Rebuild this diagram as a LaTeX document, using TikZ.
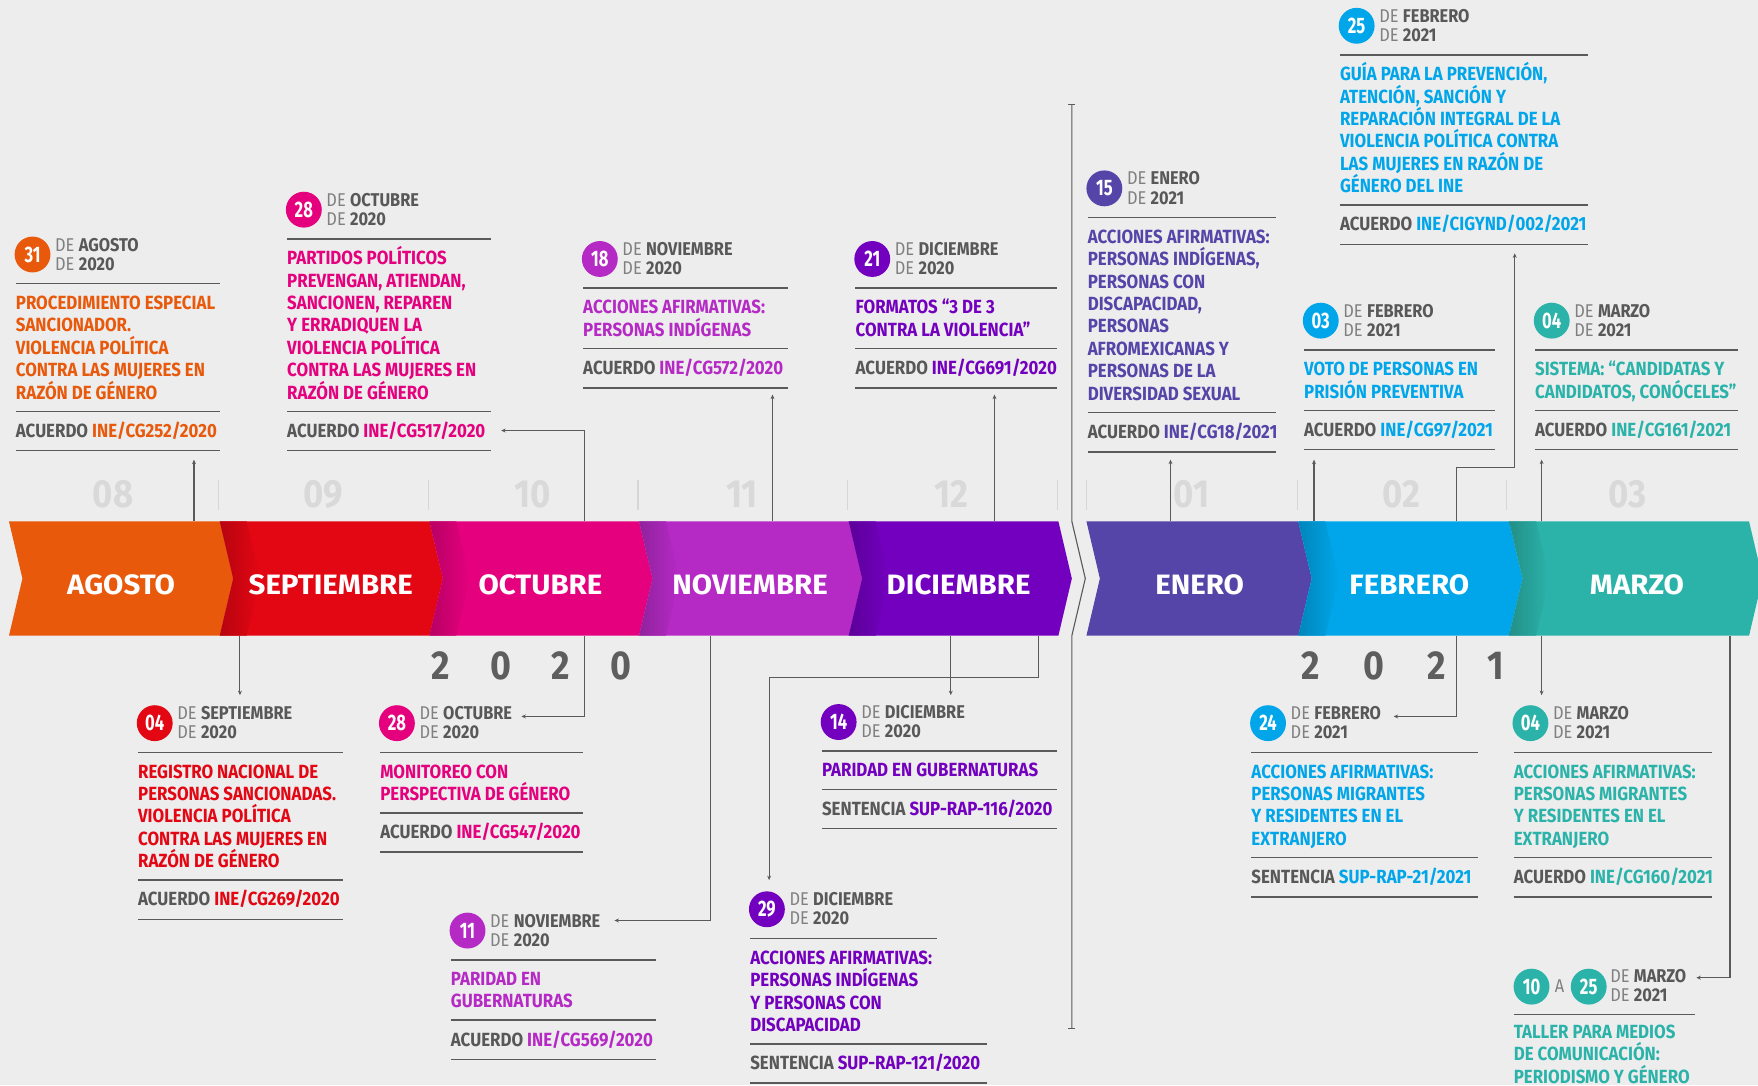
\documentclass[tikz,border=0pt]{standalone}
\usepackage{fontspec}
\setmainfont{Fira Sans}[FakeStretch=0.885]
\newfontfamily\bandfam{Fira Sans}[FakeStretch=1.05]
\newfontfamily\condfam{Fira Sans}[FakeStretch=0.74]
\usetikzlibrary{arrows.meta}
\definecolor{bg}{HTML}{EDEDED}
\definecolor{cago}{HTML}{E8590C}
\definecolor{csep}{HTML}{E30613}
\definecolor{coct}{HTML}{E5007D}
\definecolor{cnov}{HTML}{B52AC5}
\definecolor{cdic}{HTML}{7300BF}
\definecolor{cene}{HTML}{5545A8}
\definecolor{cfeb}{HTML}{00A6E9}
\definecolor{cmar}{HTML}{2BB3AA}
\definecolor{dlight}{HTML}{808080}
\definecolor{ddark}{HTML}{585858}
\definecolor{rulegray}{HTML}{5A5A5A}
\definecolor{conngray}{HTML}{5A5A5A}
\definecolor{numgray}{HTML}{D9D9D9}
\definecolor{tickgray}{HTML}{D6D6D6}
\definecolor{yeargray}{HTML}{5E5E5E}
\newcommand\stk[1]{\vtop{\let\\\cr\lineskiplimit=-60pt\lineskip=0pt\halign{##\hfil\cr#1\crcr}}}
\tikzset{
 daycirc/.style={circle, inner sep=0pt, minimum size=32pt, text=white, font=\condfam\bfseries\fontsize{20}{20}\selectfont},
 datetxt/.style={anchor=base west, inner sep=0pt, font=\fontsize{16.5}{17}\selectfont},
 bodytxt/.style={anchor=base west, inner sep=0pt, font=\bfseries\fontsize{17}{20}\selectfont},
 cardrule/.style={draw=rulegray, line width=1.4pt},
 conn/.style={draw=conngray, line width=1pt, -{Stealth[length=4pt,width=3.5pt]}},
 bandlbl/.style={anchor=base, inner sep=0pt, text=white, font=\bandfam\bfseries\fontsize{25}{25}\selectfont},
 monnum/.style={anchor=base, inner sep=0pt, text=numgray, font=\bfseries\fontsize{35}{35}\selectfont},
 yeardig/.style={anchor=base, inner sep=0pt, text=yeargray, font=\bfseries\fontsize{36}{36}\selectfont},
 tickln/.style={draw=tickgray, line width=1pt},
 bigline/.style={draw=conngray, line width=1pt},
}
\newcommand\cardhead[8]{%
  \node[daycirc, fill=#5] (#1num) at ({#2+15},{#3-26}) {#6};
  \node[datetxt] (#1date) at ({#2+35},{#3-29}) {\stk{\textcolor{dlight}{DE} \textcolor{ddark}{\bfseries #7}\\ \textcolor{dlight}{DE} \textcolor{ddark}{\bfseries #8}}};
  \draw[cardrule] ({#2},{#3}) -- ({#4},{#3});
}
\newcommand\cardbody[9]{%
  \pgfmathsetmacro\rb{#3+14+20*#6}%
  \node[bodytxt, text=#5] (#1body) at ({#2},{#3+23}) {\stk{#7}};
  \draw[cardrule] ({#2},\rb) -- ({#4},\rb);
  \node[bodytxt] (#1ref) at ({#2},{\rb+23}) {\textcolor{ddark}{#8} \textcolor{#5}{#9}};
  \draw[cardrule] ({#2},{\rb+35}) -- ({#4},{\rb+35});
}
\newcommand\bandseg[3]{%
  \fill[#3] (#1,465) -- (#2,465) -- ({#2+12},516) -- (#2,567) -- (#1,567) -- ({#1+12},516) -- cycle;}
\newcommand\bandshade[2]{%
  \shade[left color=#2!80!black, right color=#2] (#1,465) -- ({#1+24},465) -- ({#1+36},516) -- ({#1+24},567) -- (#1,567) -- ({#1+12},516) -- cycle;}
\begin{document}
\begin{tikzpicture}[x=1pt,y=-1pt]
\path[use as bounding box, fill=bg] (0,0) rectangle (1568,968);
\clip (0,0) rectangle (1568,968);

% band
\bandseg{8}{196}{cago}
\bandseg{196}{383}{csep}
\bandseg{383}{570}{coct}
\bandseg{570}{757}{cnov}
\bandseg{757}{944}{cdic}
\bandseg{969}{1158}{cene}
\bandseg{1158}{1346}{cfeb}
\bandseg{1346}{1560}{cmar}
\bandshade{196}{csep}
\bandshade{383}{coct}
\bandshade{570}{cnov}
\bandshade{757}{cdic}
\bandshade{1158}{cfeb}
\bandshade{1346}{cmar}

\node[bandlbl] (lago) at (108,530) {AGOSTO};
\node[bandlbl] (lsep) at (295,530) {SEPTIEMBRE};
\node[bandlbl] (loct) at (482,530) {OCTUBRE};
\node[bandlbl] (lnov) at (669,530) {NOVIEMBRE};
\node[bandlbl] (ldic) at (855,530) {DICIEMBRE};
\node[bandlbl] (lene) at (1070,530) {ENERO};
\node[bandlbl] (lfeb) at (1257,530) {FEBRERO};
\node[bandlbl] (lmar) at (1460,530) {MARZO};

% month numbers and ticks
\node[monnum] (m08) at (101,453) {08};
\node[monnum] (m09) at (288,453) {09};
\node[monnum] (m10) at (475,453) {10};
\node[monnum] (m11) at (662,453) {11};
\node[monnum] (m12) at (849,453) {12};
\node[monnum] (m01) at (1063,453) {01};
\node[monnum] (m02) at (1250,453) {02};
\node[monnum] (m03) at (1452,453) {03};
\foreach \tx in {195,382,569,756,943,969,1157,1344}{\draw[tickln] (\tx,428) -- (\tx,455);}

% years
\node[yeardig] (ya1) at (393,606) {2};
\node[yeardig] (ya2) at (447,606) {0};
\node[yeardig] (ya3) at (500,606) {2};
\node[yeardig] (ya4) at (554,606) {0};
\node[yeardig] (yb1) at (1169,606) {2};
\node[yeardig] (yb2) at (1225,606) {0};
\node[yeardig] (yb3) at (1281,606) {2};
\node[yeardig] (yb4) at (1334,606) {1};

% break line
\coordinate (vtop) at (956,93);
\coordinate (vbot) at (956,917);
\coordinate (vz1) at (956,465);
\coordinate (vz2) at (968,516);
\coordinate (vz3) at (956,567);
\draw[bigline] (vtop) -- (vz1) -- (vz2) -- (vz3) -- (vbot);
\draw[bigline] ([xshift=-3pt]vtop) -- ([xshift=3pt]vtop);
\draw[bigline] ([xshift=-3pt]vbot) -- ([xshift=3pt]vbot);

% top cards
\cardhead{A}{14}{253}{196}{cago}{31}{AGOSTO}{2020}
\cardbody{A}{14}{253}{196}{cago}{5}{PROCEDIMIENTO ESPECIAL\\SANCIONADOR.\\VIOLENCIA POLÍTICA\\CONTRA LAS MUJERES EN\\RAZÓN DE GÉNERO}{ACUERDO}{INE/CG252/2020}

\cardhead{B}{256}{213}{438}{coct}{28}{OCTUBRE}{2020}
\cardbody{B}{256}{213}{438}{coct}{7}{PARTIDOS POLÍTICOS\\PREVENGAN, ATIENDAN,\\SANCIONEN, REPAREN\\Y ERRADIQUEN LA\\VIOLENCIA POLÍTICA\\CONTRA LAS MUJERES EN\\RAZÓN DE GÉNERO}{ACUERDO}{INE/CG517/2020}

\cardhead{C}{520}{257}{703}{cnov}{18}{NOVIEMBRE}{2020}
\cardbody{C}{520}{257}{703}{cnov}{2}{ACCIONES AFIRMATIVAS:\\PERSONAS INDÍGENAS}{ACUERDO}{INE/CG572/2020}

\cardhead{D}{763}{257}{943}{cdic}{21}{DICIEMBRE}{2020}
\cardbody{D}{763}{257}{943}{cdic}{2}{FORMATOS “3 DE 3\\CONTRA LA VIOLENCIA”}{ACUERDO}{INE/CG691/2020}

\cardhead{E}{970}{194}{1138}{cene}{15}{ENERO}{2021}
\cardbody{E}{970}{194}{1138}{cene}{8}{ACCIONES AFIRMATIVAS:\\PERSONAS INDÍGENAS,\\PERSONAS CON\\DISCAPACIDAD,\\PERSONAS\\AFROMEXICANAS Y\\PERSONAS DE LA\\DIVERSIDAD SEXUAL}{ACUERDO}{INE/CG18/2021}

\cardhead{F}{1195}{49}{1416}{cfeb}{25}{FEBRERO}{2021}
\cardbody{F}{1195}{49}{1416}{cfeb}{6}{GUÍA PARA LA PREVENCIÓN,\\ATENCIÓN, SANCIÓN Y\\REPARACIÓN INTEGRAL DE LA\\VIOLENCIA POLÍTICA CONTRA\\LAS MUJERES EN RAZÓN DE\\GÉNERO DEL INE}{ACUERDO}{INE/CIGYND/002/2021}

\cardhead{G}{1163}{312}{1333}{cfeb}{03}{FEBRERO}{2021}
\cardbody{G}{1163}{312}{1333}{cfeb}{2}{VOTO DE PERSONAS EN\\PRISIÓN PREVENTIVA}{ACUERDO}{INE/CG97/2021}

\cardhead{H}{1369}{312}{1550}{cmar}{04}{MARZO}{2021}
\cardbody{H}{1369}{312}{1550}{cmar}{2}{SISTEMA: “CANDIDATAS Y\\CANDIDATOS, CONÓCELES”}{ACUERDO}{INE/CG161/2021}

% bottom cards
\cardhead{I}{123}{671}{306}{csep}{04}{SEPTIEMBRE}{2020}
\cardbody{I}{123}{671}{306}{csep}{5}{REGISTRO NACIONAL DE\\PERSONAS SANCIONADAS.\\VIOLENCIA POLÍTICA\\CONTRA LAS MUJERES EN\\RAZÓN DE GÉNERO}{ACUERDO}{INE/CG269/2020}

\cardhead{J}{339}{671}{520}{coct}{28}{OCTUBRE}{2020}
\cardbody{J}{339}{671}{520}{coct}{2}{MONITOREO CON\\PERSPECTIVA DE GÉNERO}{ACUERDO}{INE/CG547/2020}

\cardhead{K}{402}{856}{585}{cnov}{11}{NOVIEMBRE}{2020}
\cardbody{K}{402}{856}{585}{cnov}{2}{PARIDAD EN\\GUBERNATURAS}{ACUERDO}{INE/CG569/2020}

\cardhead{L}{733}{670}{943}{cdic}{14}{DICIEMBRE}{2020}
\cardbody{L}{733}{670}{943}{cdic}{1}{PARIDAD EN GUBERNATURAS}{SENTENCIA}{SUP-RAP-116/2020}

\cardhead{M}{669}{837}{836}{cdic}{29}{DICIEMBRE}{2020}
\cardbody{M}{669}{837}{880}{cdic}{4}{ACCIONES AFIRMATIVAS:\\PERSONAS INDÍGENAS\\Y PERSONAS CON\\DISCAPACIDAD}{SENTENCIA}{SUP-RAP-121/2020}

\cardhead{N}{1116}{671}{1318}{cfeb}{24}{FEBRERO}{2021}
\cardbody{N}{1116}{671}{1318}{cfeb}{4}{ACCIONES AFIRMATIVAS:\\PERSONAS MIGRANTES\\Y RESIDENTES EN EL\\EXTRANJERO}{SENTENCIA}{SUP-RAP-21/2021}

\cardhead{O}{1350}{671}{1527}{cmar}{04}{MARZO}{2021}
\cardbody{O}{1350}{671}{1527}{cmar}{4}{ACCIONES AFIRMATIVAS:\\PERSONAS MIGRANTES\\Y RESIDENTES EN EL\\EXTRANJERO}{ACUERDO}{INE/CG160/2021}

% card P (10 a 25 de marzo)
\node[daycirc, fill=cmar] (Pn1) at (1366,880) {10};
\node[datetxt, anchor=base] (Pa) at (1391,885) {\textcolor{dlight}{A}};
\node[daycirc, fill=cmar] (Pn2) at (1417,880) {25};
\node[datetxt] (Pdate) at (1436,876) {\stk{\textcolor{dlight}{DE} \textcolor{ddark}{\bfseries MARZO}\\ \textcolor{dlight}{DE} \textcolor{ddark}{\bfseries 2021}}};
\draw[cardrule] (1350,905) -- (1512,905);
\node[bodytxt, text=cmar] (Pbody) at (1350,926) {\stk{TALLER PARA MEDIOS\\DE COMUNICACIÓN:\\PERIODISMO Y GÉNERO}};

% connectors up
\coordinate (sA) at (173,465); \coordinate (tA) at (173,410);
\draw[conn] (sA) -- (tA);
\coordinate (sB) at (521,465); \coordinate (tB) at (447,384);
\draw[conn] (sB) |- (tB);
\coordinate (sC) at (689,465); \coordinate (tC) at (689,352);
\draw[conn] (sC) -- (tC);
\coordinate (sD) at (887,465); \coordinate (tD) at (887,352);
\draw[conn] (sD) -- (tD);
\coordinate (sE) at (1044,465); \coordinate (tE) at (1044,410);
\draw[conn] (sE) -- (tE);
\coordinate (sG) at (1172,465); \coordinate (tG) at (1172,410);
\draw[conn] (sG) -- (tG);
\coordinate (sF) at (1299,465); \coordinate (bF) at (1299,417); \coordinate (tF) at (1351,226);
\draw[conn] (sF) -- (bF) -| (tF);
\coordinate (sH) at (1375,465); \coordinate (tH) at (1375,410);
\draw[conn] (sH) -- (tH);

% connectors down
\coordinate (sI) at (214,567); \coordinate (tI) at (214,620);
\draw[conn] (sI) -- (tI);
\coordinate (sJ) at (521,567); \coordinate (tJ) at (465,639);
\draw[conn] (sJ) |- (tJ);
\coordinate (sK) at (634,567); \coordinate (tK) at (548,821);
\draw[conn] (sK) |- (tK);
\coordinate (sM) at (926,567); \coordinate (bM) at (926,604); \coordinate (tM) at (686,785);
\draw[conn] (sM) -- (bM) -| (tM);
\coordinate (sL) at (848,567); \coordinate (tL) at (848,620);
\draw[conn] (sL) -- (tL);
\coordinate (sN) at (1299,567); \coordinate (tN) at (1243,639);
\draw[conn] (sN) |- (tN);
\coordinate (sO) at (1375,567); \coordinate (tO) at (1375,620);
\draw[conn] (sO) -- (tO);
\coordinate (sP) at (1543,567); \coordinate (tP) at (1513,872);
\draw[conn] (sP) |- (tP);
\end{tikzpicture}
\end{document}
